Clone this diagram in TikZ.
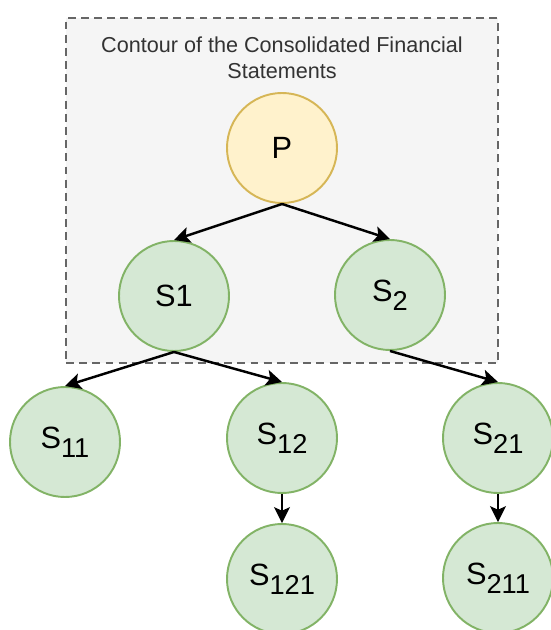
\documentclass[tikz,border=0pt]{standalone}
\usepackage{fontspec}
\setmainfont{Liberation Sans}
\usetikzlibrary{arrows.meta,positioning}
\definecolor{contourFill}{RGB}{245,245,245}
\definecolor{contourLine}{RGB}{102,102,102}
\definecolor{parentFill}{RGB}{255,242,204}
\definecolor{parentLine}{RGB}{214,182,86}
\definecolor{subFill}{RGB}{213,232,212}
\definecolor{subLine}{RGB}{130,179,102}
\newcommand{\subidx}[1]{\raisebox{-0.3em}{\fontsize{15.5}{15.5}\selectfont #1}}

\begin{document}
\begin{tikzpicture}[
  entity/.style={
    circle,
    draw,
    line width=1.1pt,
    minimum size=2.2cm,
    inner sep=0pt,
    font=\fontsize{17.5}{17.5}\selectfont
  },
  parent/.style={entity,fill=parentFill,draw=parentLine},
  subsidiary/.style={entity,fill=subFill,draw=subLine},
  owns/.style={
    -{Stealth[length=9pt,width=9pt,inset=2pt]},
    line width=1.4pt
  }
]
  \useasboundingbox (0,0) rectangle (11.02,12.6);
  \node[draw=contourLine,fill=contourFill,dashed,dash pattern=on 4.5pt off 3pt,
    line width=1.1pt,minimum width=8.64cm,minimum height=6.9cm,inner sep=0pt]
    (contour) at (5.64,8.79) {};
  \node[align=center,text=black!80,font=\fontsize{12.3}{14.7}\selectfont]
    (title) at (5.64,11.45)
    {Contour of the Consolidated Financial\\Statements};
  \node[parent] (p) at (5.64,9.64) {P};
  \node[subsidiary] (s1) at (3.48,6.68) {S1};
  \node[subsidiary] (s2) at (7.80,6.70) {S\subidx{2}};
  \node[subsidiary] (s11) at (1.30,3.76) {S\subidx{11}};
  \node[subsidiary] (s12) at (5.64,3.84) {S\subidx{12}};
  \node[subsidiary] (s21) at (9.96,3.84) {S\subidx{21}};
  \node[subsidiary] (s121) at (5.64,1.02) {S\subidx{121}};
  \node[subsidiary] (s211) at (9.96,1.04) {S\subidx{211}};
  \draw[owns] (p.south) -- (s1.north);
  \draw[owns] (p.south) -- (s2.north);
  \draw[owns] (s1.south) -- (s11.north);
  \draw[owns] (s1.south) -- (s12.north);
  \draw[owns] (s2.south) -- (s21.north);
  \draw[owns] (s12.south) -- (s121.north);
  \draw[owns] (s21.south) -- (s211.north);
\end{tikzpicture}
\end{document}
